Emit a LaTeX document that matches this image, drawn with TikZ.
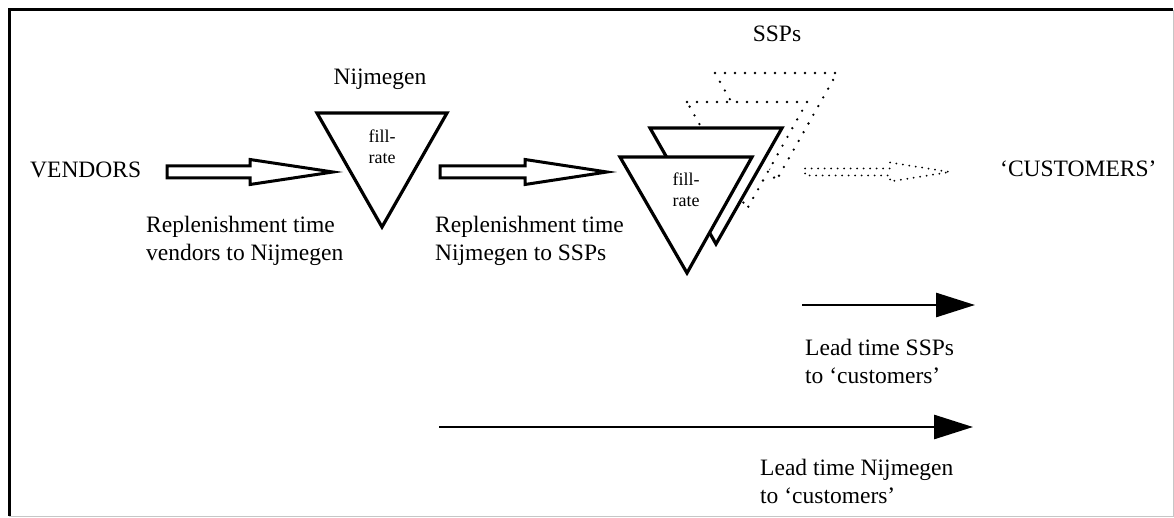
\documentclass[tikz,border=0pt]{standalone}
\usepackage{fontspec}
\setmainfont{Liberation Serif}
\usetikzlibrary{arrows.meta,calc}
\begin{document}
\begin{tikzpicture}[x=1pt,y=-1pt,
  lbl/.style={font=\fontsize{23.5}{28}\selectfont, inner sep=0pt},
  lbltwo/.style={lbl, align=left, anchor=north west},
  small/.style={font=\fontsize{18}{21}\selectfont, inner sep=0pt, align=center},
  stockpoint/.style={draw=black, line width=3.2pt, fill=white, line join=miter},
  ghost/.style={draw=black, fill=white, line width=2.6pt, line cap=round, dash pattern=on 0pt off 10pt},
  flowarrow/.style={draw=black, line width=3pt, fill=white, line join=miter},
  ghostarrow/.style={draw=black, line width=2pt, line cap=round, dash pattern=on 0pt off 6.5pt},
  leadarrow/.style={line width=2.8pt, -{Triangle[length=39pt,width=24pt]}}
]
\useasboundingbox (0,0) rectangle (1174,518);

% frame
\draw[line width=3pt] (9,516) -- (9,10) -- (1173,10);
\draw[gray!45, line width=0.8pt] (1173,10) -- (1173,516) -- (9,516);

% labels
\node[lbl, anchor=base west] (vendors) at (30,178) {VENDORS};
\node[lbl, anchor=base] (nijlbl) at (380,85) {Nijmegen};
\node[lbl, anchor=base] (ssplbl) at (777,42) {SSPs};
\node[lbl, anchor=base west] (cust) at (1000,177) {‘CUSTOMERS’};

\node[lbltwo] (rep1) at (146,216) {Replenishment time\\vendors to Nijmegen};
\node[lbltwo] (rep2) at (435,216) {Replenishment time\\Nijmegen to SSPs};
\node[lbltwo] (lead1) at (805,339) {Lead time SSPs\\to ‘customers’};
\node[lbltwo] (lead2) at (760,459) {Lead time Nijmegen\\to ‘customers’};

% Nijmegen stock point
\path[stockpoint] (317,113) coordinate (nA) -- (447,113) coordinate (nB) -- (382,227) coordinate (nC) -- cycle;
\node[small] (nijfill) at (382,147) {fill-\\rate};

% SSP stock points: dotted ones behind, solid ones in front
\path[ghost] (715,73) coordinate (g4A) -- (837,73) coordinate (g4B) -- (776,181) coordinate (g4C) -- cycle;
\path[ghost] (687,102) coordinate (g3A) -- (807,102) coordinate (g3B) -- (747,209) coordinate (g3C) -- cycle;
\path[stockpoint] (650,128) coordinate (s2A) -- (782,128) coordinate (s2B) -- (716,244) coordinate (s2C) -- cycle;
\path[stockpoint] (620,157) coordinate (s1A) -- (752,157) coordinate (s1B) -- (687,273) coordinate (s1C) -- cycle;
\node[small] (sspfill) at (686,190) {fill-\\rate};

% replenishment flows
\coordinate (a1s) at (167,172);
\coordinate (a1t) at (333,172);
\path[flowarrow] ($(a1s)+(0,-6)$) -- ($(a1t)+(-83,-6)$) -- ($(a1t)+(-83,-12.5)$) -- (a1t)
  -- ($(a1t)+(-83,12.5)$) -- ($(a1t)+(-83,6)$) -- ($(a1s)+(0,6)$) -- cycle;

\coordinate (a2s) at (440,172);
\coordinate (a2t) at (607,172);
\path[flowarrow] ($(a2s)+(0,-6)$) -- ($(a2t)+(-82,-6)$) -- ($(a2t)+(-82,-12.5)$) -- (a2t)
  -- ($(a2t)+(-82,12.5)$) -- ($(a2t)+(-82,6)$) -- ($(a2s)+(0,6)$) -- cycle;

% delivery flow to the customers
\coordinate (a3s) at (805,172);
\coordinate (a3t) at (950,172);
\path[ghostarrow] ($(a3s)+(0,-3.5)$) -- ($(a3t)+(-60,-3.5)$) -- ($(a3t)+(-60,-9.5)$) -- (a3t)
  -- ($(a3t)+(-60,9.5)$) -- ($(a3t)+(-60,3.5)$) -- ($(a3s)+(0,3.5)$) -- cycle;

% lead times
\coordinate (l1s) at (802,305);
\coordinate (l1e) at (975,305);
\draw[leadarrow] (l1s) -- (l1e);
\coordinate (l2s) at (439,427);
\coordinate (l2e) at (973,427);
\draw[leadarrow] (l2s) -- (l2e);
\end{tikzpicture}
\end{document}
